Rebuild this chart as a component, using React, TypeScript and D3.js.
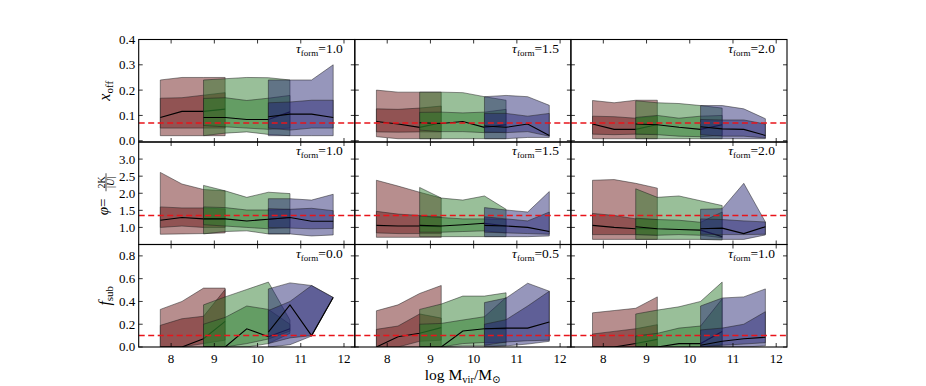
import * as d3 from "d3";

const W = 926;
const H = 386;

// mass bins (log Mvir) for the three simulation sets
const binsLow = [7.75, 8.25, 8.75, 9.25];
const binsMid = [8.75, 9.25, 9.75, 10.25, 10.75];
const binsHigh = [10.25, 10.75, 11.25, 11.75];

// each set: [outer low, inner low, median, inner high, outer high]
const xoffT10 = {
  low: [[0.02, 0.02, 0.02, 0.02], [0.05, 0.05, 0.05, 0.05], [0.092, 0.116, 0.116, 0.125], [0.168, 0.17, 0.18, 0.19], [0.24, 0.25, 0.25, 0.25]],
  mid: [[0.02, 0.03, 0.035, 0.025, 0.02], [0.06, 0.055, 0.05, 0.045, 0.05], [0.092, 0.092, 0.084, 0.084, 0.114], [0.167, 0.17, 0.159, 0.168, 0.179], [0.24, 0.245, 0.25, 0.249, 0.24]],
  high: [[0.02, 0.02, 0.02, 0.02], [0.05, 0.042, 0.05, 0.05], [0.095, 0.105, 0.105, 0.092], [0.15, 0.153, 0.16, 0.16], [0.24, 0.24, 0.24, 0.3]],
};
const xoffT15 = {
  low: [[0.016, 0.008, 0.008, 0.008], [0.035, 0.034, 0.035, 0.035], [0.076, 0.066, 0.053, 0.071], [0.126, 0.124, 0.129, 0.137], [0.2, 0.192, 0.192, 0.192]],
  mid: [[0.008, 0.008, 0.008, 0.008, 0.008], [0.042, 0.036, 0.036, 0.032, 0.034], [0.071, 0.068, 0.076, 0.053, 0.063], [0.112, 0.113, 0.11, 0.113, 0.124], [0.192, 0.192, 0.19, 0.174, 0.16]],
  high: [[0.008, 0.008, 0.013, 0.013], [0.034, 0.032, 0.036, 0.018], [0.058, 0.053, 0.066, 0.021], [0.108, 0.108, 0.097, 0.108], [0.174, 0.179, 0.174, 0.14]],
};
const xoffT20 = {
  low: [[0.008, 0.008, 0.008, 0.008], [0.026, 0.024, 0.026, 0.026], [0.066, 0.045, 0.045, 0.064], [0.097, 0.095, 0.089, 0.097], [0.159, 0.15, 0.16, 0.16]],
  mid: [[0.008, 0.008, 0.008, 0.008, 0.008], [0.026, 0.024, 0.018, 0.016, 0.021], [0.066, 0.063, 0.053, 0.045, 0.063], [0.092, 0.1, 0.089, 0.097, 0.1], [0.158, 0.15, 0.147, 0.139, 0.129]],
  high: [[0.008, 0.008, 0.008, 0.008], [0.024, 0.018, 0.018, 0.011], [0.055, 0.047, 0.045, 0.021], [0.084, 0.082, 0.082, 0.066], [0.139, 0.139, 0.126, 0.087]],
};
const virT10 = {
  low: [[0.8, 0.81, 0.82, 0.84], [1.0, 1.04, 1.0, 1.0], [1.21, 1.29, 1.25, 1.25], [1.6, 1.57, 1.57, 1.54], [2.61, 2.27, 2.11, 2.07]],
  mid: [[0.81, 0.88, 0.9, 0.81, 0.81], [1.08, 1.04, 1.0, 0.96, 1.0], [1.25, 1.25, 1.19, 1.24, 1.29], [1.6, 1.58, 1.51, 1.51, 1.53], [2.23, 2.07, 1.88, 2.03, 1.99]],
  high: [[0.81, 0.81, 0.75, 0.78], [1.0, 0.98, 0.96, 0.97], [1.24, 1.29, 1.18, 1.18], [1.55, 1.53, 1.56, 1.49], [1.84, 1.84, 1.8, 1.97]],
};
const virT15 = {
  low: [[0.71, 0.71, 0.71, 0.71], [0.84, 0.82, 0.82, 0.82], [1.06, 1.04, 1.04, 1.02], [1.47, 1.39, 1.35, 1.31], [2.38, 2.21, 2.03, 1.86]],
  mid: [[0.73, 0.73, 0.73, 0.73, 0.73], [0.86, 0.86, 0.88, 0.9, 0.84], [1.06, 1.04, 1.08, 1.12, 1.04], [1.33, 1.29, 1.25, 1.25, 1.23], [2.17, 1.86, 1.8, 1.92, 1.53]],
  high: [[0.73, 0.73, 0.73, 0.75], [0.86, 0.84, 0.82, 0.8], [1.06, 1.04, 1.0, 0.88], [1.31, 1.25, 1.19, 1.45], [1.58, 1.51, 1.45, 2.05]],
};
const virT20 = {
  low: [[0.65, 0.65, 0.65, 0.65], [0.79, 0.79, 0.79, 0.77], [1.06, 1.0, 0.96, 0.96], [1.41, 1.35, 1.25, 1.23], [2.38, 2.4, 2.29, 2.15]],
  mid: [[0.65, 0.65, 0.65, 0.65, 0.63], [0.79, 0.77, 0.79, 0.77, 0.7], [1.02, 0.96, 0.94, 0.92, 0.73], [1.27, 1.23, 1.21, 1.15, 1.45], [2.13, 1.88, 1.92, 1.78, 1.64]],
  high: [[0.65, 0.65, 0.65, 0.78], [0.8, 0.79, 0.79, 0.8], [0.96, 0.98, 0.82, 1.02], [1.25, 1.23, 1.19, 1.16], [1.53, 1.55, 2.29, 1.16]],
};
const fsubT00 = {
  low: [[0, 0, 0, 0], [0, 0, 0.03, 0.06], [0, 0, 0.073, 0.225], [0.19, 0.248, 0.27, 0.505], [0.33, 0.4, 0.517, 0.517]],
  mid: [[0, 0, 0, 0.03, 0.12], [0, 0, 0.03, 0.07, 0.14], [0, 0, 0.16, 0.09, 0.16], [0.2, 0.26, 0.36, 0.33, 0.2], [0.37, 0.44, 0.505, 0.57, 0.236]],
  high: [[0, 0.02, 0.096, 0.435], [0.03, 0.08, 0.1, 0.435], [0.13, 0.37, 0.1, 0.435], [0.32, 0.4, 0.54, 0.435], [0.51, 0.563, 0.54, 0.435]],
};
const fsubT05 = {
  low: [[0, 0, 0, 0], [0, 0, 0.05, 0.06], [0, 0.09, 0.12, 0.17], [0.155, 0.184, 0.29, 0.254], [0.318, 0.37, 0.47, 0.54]],
  mid: [[0, 0, 0.01, 0.01, 0.01], [0, 0, 0.03, 0.04, 0.04], [0, 0, 0.14, 0.16, 0.16], [0.2, 0.207, 0.237, 0.266, 0.435], [0.33, 0.377, 0.447, 0.447, 0.476]],
  high: [[0, 0.01, 0.026, 0.05], [0.015, 0.044, 0.055, 0.06], [0.16, 0.166, 0.166, 0.22], [0.2, 0.24, 0.36, 0.49], [0.39, 0.43, 0.56, 0.49]],
};
const fsubT10 = {
  low: [[0, 0, 0, 0], [0, 0, 0, 0.01], [0, 0, 0.03, 0.067], [0.114, 0.137, 0.16, 0.196], [0.3, 0.32, 0.34, 0.44]],
  mid: [[0, 0, 0, 0, 0], [0, 0, 0, 0, 0.02], [0, 0, 0.03, 0.03, 0.137], [0.096, 0.12, 0.166, 0.184, 0.423], [0.29, 0.324, 0.353, 0.4, 0.57]],
  high: [[0, 0, 0, 0.01], [0, 0.015, 0.026, 0.038], [0.015, 0.05, 0.073, 0.085], [0.15, 0.166, 0.2, 0.31], [0.36, 0.43, 0.44, 0.51]],
};

const panels = [
  [xoffT10, xoffT15, xoffT20],
  [virT10, virT15, virT20],
  [fsubT00, fsubT05, fsubT10],
];
const tauLabels = [
  ["1.0", "1.5", "2.0"],
  ["1.0", "1.5", "2.0"],
  ["0.0", "0.5", "1.0"],
];
const yDomains = [[-0.005, 0.4], [0.5, 3.5], [0, 0.9]];
const yTicks = [
  [0, 0.1, 0.2, 0.3, 0.4],
  [1.0, 1.5, 2.0, 2.5, 3.0],
  [0, 0.2, 0.4, 0.6, 0.8],
];
const refLines = [0.07, 1.35, 0.1];
const xTicks = [8, 9, 10, 11, 12];

const sets = [
  { key: "low", bins: binsLow, color: "rgb(104,18,18)" },
  { key: "mid", bins: binsMid, color: "rgb(42,122,42)" },
  { key: "high", bins: binsHigh, color: "rgb(35,35,112)" },
];

const left = 138.7;
const colW = 216.1;
const top = 39.5;
const rowH = 102.5;
const serif = "'Liberation Serif', 'DejaVu Serif', serif";
const fmt = d3.format(".1f");

function Panel({ row, col }: { row: number; col: number }) {
  const data: any = panels[row][col];
  const x0 = left + col * colW;
  const y0 = top + row * rowH;
  const x = d3.scaleLinear().domain([7.25, 12.25]).range([0, colW]);
  const y = d3.scaleLinear().domain(yDomains[row]).range([rowH, 0]);
  const clipId = `clip-${row}-${col}`;

  return (
    <g transform={`translate(${x0},${y0})`}>
      <defs>
        <clipPath id={clipId}>
          <rect x={0} y={0} width={colW} height={rowH} />
        </clipPath>
      </defs>
      <g clipPath={`url(#${clipId})`}>
        {sets.map((s) => {
          const [olo, ilo, med, ihi, ohi] = data[s.key];
          const idx = s.bins.map((_, i) => i);
          const band = (lo: number[], hi: number[]) =>
            d3
              .area<number>()
              .x((i) => x(s.bins[i]))
              .y0((i) => y(lo[i]))
              .y1((i) => y(hi[i]))(idx) || "";
          const line =
            d3
              .line<number>()
              .x((i) => x(s.bins[i]))
              .y((i) => y(med[i]))(idx) || "";
          return (
            <g key={s.key}>
              <path d={band(olo, ohi)} fill={s.color} fillOpacity={0.48} stroke="rgba(30,30,30,0.55)" strokeWidth={0.9} />
              <path d={band(ilo, ihi)} fill={s.color} fillOpacity={0.48} stroke="rgba(30,30,30,0.55)" strokeWidth={0.9} />
              <path d={line} fill="none" stroke="#000" strokeWidth={1.1} />
            </g>
          );
        })}
        <line x1={0} x2={colW} y1={y(refLines[row])} y2={y(refLines[row])} stroke="#e8141b" strokeWidth={1.5} strokeDasharray="6 3.5" />
      </g>
      {xTicks.map((t) => (
        <g key={`xt${t}`}>
          <line x1={x(t)} x2={x(t)} y1={rowH} y2={rowH - 4} stroke="#000" strokeWidth={0.8} />
          <line x1={x(t)} x2={x(t)} y1={0} y2={4} stroke="#000" strokeWidth={0.8} />
          {row === 2 && (
            <text x={x(t)} y={rowH + 15.5} textAnchor="middle" fontFamily={serif} fontSize={13}>
              {t}
            </text>
          )}
        </g>
      ))}
      {yTicks[row].map((t) => (
        <g key={`yt${t}`}>
          <line x1={0} x2={4} y1={y(t)} y2={y(t)} stroke="#000" strokeWidth={0.8} />
          <line x1={colW} x2={colW - 4} y1={y(t)} y2={y(t)} stroke="#000" strokeWidth={0.8} />
          {col === 0 && (
            <text x={-3.5} y={y(t)} dy="0.34em" textAnchor="end" fontFamily={serif} fontSize={13}>
              {fmt(t)}
            </text>
          )}
        </g>
      ))}
      <rect x={0} y={0} width={colW} height={rowH} fill="none" stroke="#000" strokeWidth={1.1} />
      <text x={colW - 12} y={13} textAnchor="end" fontFamily={serif} fontSize={13.5}>
        <tspan fontStyle="italic">τ</tspan>
        <tspan fontSize={9} dy={3}>form</tspan>
        <tspan dy={-3}>={tauLabels[row][col]}</tspan>
      </text>
    </g>
  );
}

export default function App() {
  const rows = [0, 1, 2];
  const cols = [0, 1, 2];
  const rowMid = (r: number) => top + r * rowH + rowH / 2;
  return (
    <svg width={W} height={H} style={{ position: "absolute", left: 0, top: 0, background: "#fff" }}>
      {rows.map((r) => cols.map((c) => <Panel key={`${r}-${c}`} row={r} col={c} />))}

      {/* y axis titles */}
      <text transform={`translate(110,${rowMid(0)}) rotate(-90)`} textAnchor="middle" fontFamily={serif} fontSize={16}>
        <tspan fontStyle="italic">x</tspan>
        <tspan fontSize={11} dy={3}>off</tspan>
      </text>
      <g transform={`translate(108,${rowMid(1)}) rotate(-90)`} fontFamily={serif}>
        <text x={-22} y={0} fontSize={15}>
          <tspan fontStyle="italic">φ</tspan>=
        </text>
        <text x={11} y={-3.5} fontSize={10} textAnchor="middle">2K</text>
        <line x1={2} x2={20} y1={-2} y2={-2} stroke="#000" strokeWidth={0.7} />
        <text x={11} y={6} fontSize={10} textAnchor="middle">|<tspan fontStyle="italic">U</tspan>|</text>
      </g>
      <text transform={`translate(110,${rowMid(2)}) rotate(-90)`} textAnchor="middle" fontFamily={serif} fontSize={16}>
        <tspan fontStyle="italic">f</tspan>
        <tspan fontSize={11} dy={3}>sub</tspan>
      </text>

      {/* x axis title */}
      <text x={left + 1.5 * colW} y={380} textAnchor="middle" fontFamily={serif} fontSize={15.5}>
        log M<tspan fontSize={10.5} dy={3}>vir</tspan>
        <tspan dy={-3}>/M</tspan>
        <tspan fontSize={10.5} dy={3}>⊙</tspan>
      </text>
    </svg>
  );
}
